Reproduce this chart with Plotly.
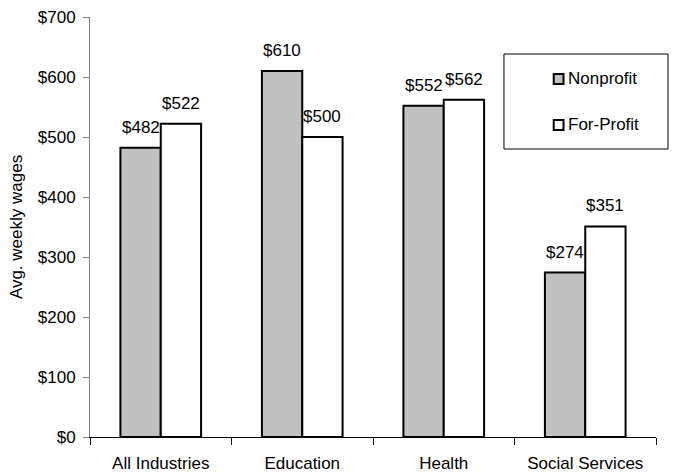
import plotly.graph_objects as go

# Average weekly wages by industry, nonprofit vs for-profit
categories = ["All Industries", "Education", "Health", "Social Services"]
nonprofit = [482, 610, 552, 274]
for_profit = [522, 500, 562, 351]
y_ticks = [0, 100, 200, 300, 400, 500, 600, 700]
y_tick_labels = [f"${v}" for v in y_ticks]

FONT = "Liberation Sans, Arial, sans-serif"
BAR_GAP = 0.43
series = [
    ("Nonprofit", nonprofit, "#C0C0C0"),
    ("For-Profit", for_profit, "#FFFFFF"),
]

fig = go.Figure()
for name, values, color in series:
    fig.add_trace(go.Bar(
        name=name, x=categories, y=values,
        marker=dict(color=color, line=dict(color="black", width=2)),
        showlegend=False,
    ))

# value labels above each bar, centred on the bar within its group
bar_w = (1 - BAR_GAP) / len(series)
annotations = []
for s_idx, (name, values, color) in enumerate(series):
    offset = (s_idx - (len(series) - 1) / 2) * bar_w
    for c_idx, v in enumerate(values):
        annotations.append(dict(
            x=c_idx + offset, y=v, xref="x", yref="y",
            text=f"${v}", showarrow=False,
            xanchor="center", yanchor="bottom", yshift=9,
            font=dict(size=17, family=FONT, color="black"),
        ))

# legend box with swatches and names
box = dict(x0=0.7314, x1=1.0212, y0=0.6857, y1=0.9119)
shapes = [dict(
    type="rect", xref="paper", yref="paper", **box,
    line=dict(color="black", width=1), fillcolor="white", layer="above",
)]
legend_rows = [0.8524, 0.7429]
sw_x0, sw_x1, sw_h = 0.8193, 0.8366, 0.0119
for (name, values, color), ly in zip(series, legend_rows):
    shapes.append(dict(
        type="rect", xref="paper", yref="paper",
        x0=sw_x0, x1=sw_x1, y0=ly - sw_h, y1=ly + sw_h,
        line=dict(color="black", width=2), fillcolor=color, layer="above",
    ))
    annotations.append(dict(
        x=0.8418, y=ly, xref="paper", yref="paper",
        text=name, showarrow=False, xanchor="left", yanchor="middle",
        font=dict(size=17, family=FONT, color="black"),
    ))

fig.update_layout(
    width=686, height=473,
    margin=dict(l=90, r=30, t=17, b=36),
    paper_bgcolor="white", plot_bgcolor="white",
    font=dict(family=FONT, size=17, color="black"),
    barmode="group", bargap=BAR_GAP, bargroupgap=0,
    showlegend=False,
    xaxis=dict(
        type="category", tickson="boundaries", ticks="outside",
        ticklen=7, tickcolor="black", showline=True, linecolor="black",
        linewidth=1, showgrid=False, zeroline=False,
        tickfont=dict(size=17, family=FONT),
        ticklabelstandoff=11, automargin=False,
    ),
    yaxis=dict(
        range=[0, 700], tickvals=y_ticks, ticktext=y_tick_labels,
        ticks="outside", ticklen=6, tickcolor="#808080",
        showline=True, linecolor="#808080", linewidth=1,
        showgrid=False, zeroline=False,
        tickfont=dict(size=17, family=FONT),
        ticklabelstandoff=4, automargin=False,
        title=dict(text="Avg. weekly wages", font=dict(size=17, family=FONT), standoff=10),
    ),
    shapes=shapes,
    annotations=annotations,
)

fig.write_html("out.html")
